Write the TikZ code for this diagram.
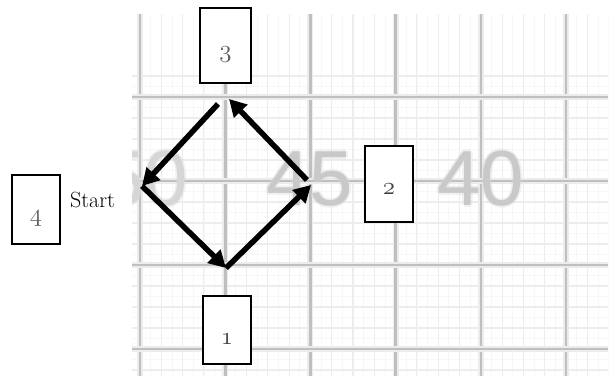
\documentclass[tikz,border=0pt]{standalone}
\usepackage{fontspec}
\newfontfamily\digitfont{Liberation Sans}
\usetikzlibrary{arrows.meta}
\newcommand\osnum[1]{{\usefont{OML}{cmm}{m}{it}#1}}
\begin{document}
\begin{tikzpicture}[x=1pt,y=-1pt,
  numbox/.style={draw=black, line width=1.2pt, fill=white, inner sep=0pt,
    minimum width=48pt, font=\fontsize{24}{24}\selectfont, text=black!75},
  bigdigit/.style={font=\digitfont\fontsize{78}{78}\selectfont, text=gray!42, inner sep=0pt},
  blurdigit/.style={font=\digitfont\fontsize{78}{78}\selectfont, text=gray!30, inner sep=0pt, opacity=0.35},
  flow/.style={line width=5.5pt, -{Triangle[length=17pt,width=18pt]}},
  major/.style={gray!50, line width=2.6pt},
  majorhalo/.style={gray!15, line width=6pt},
  minor/.style={gray!14, line width=1.1pt},
  fine/.style={gray!6, line width=0.8pt},
]
\useasboundingbox (0,0) rectangle (613,376);
\fill[white] (0,0) rectangle (613,376);

% graph paper
\begin{scope}
  \clip (132,14) rectangle (608,376);
  \foreach \k in {-1,...,48} {
    \draw[fine] ({140+10.65*\k},0) -- ({140+10.65*\k},376);
    \draw[fine] (0,{97+10.5*\k}) -- (613,{97+10.5*\k});
  }
  \foreach \k in {-1,...,24} {
    \draw[minor] ({140+21.3*\k},0) -- ({140+21.3*\k},376);
    \draw[minor] (0,{97+21*\k}) -- (613,{97+21*\k});
  }
  \foreach \k in {0,...,5} {
    \draw[majorhalo] ({140+85.2*\k},14) -- ({140+85.2*\k},376);
    \draw[major] ({140+85.2*\k},14) -- ({140+85.2*\k},376);
  }
  \foreach \k in {0,...,3} {
    \draw[majorhalo] (132,{97+84*\k}) -- (608,{97+84*\k});
    \draw[major] (132,{97+84*\k}) -- (608,{97+84*\k});
  }
  % blurred scale numbers
  \foreach \dx/\dy [count=\i] in {-2/0, 2/0, 0/-2, 0/2} {
    \node[blurdigit] (bf\i) at ({145+\dx},{179+\dy}) {50};
    \node[blurdigit] (bm\i) at ({310+\dx},{179+\dy}) {45};
    \node[blurdigit] (bl\i) at ({481+\dx},{179+\dy}) {40};
  }
  \node[bigdigit, text=gray!32] (n50) at (145,179) {50};
  \node[bigdigit] (n45) at (310,179) {45};
  \node[bigdigit] (n40) at (481,179) {40};
\end{scope}

% diamond of arrows
\coordinate (topstart) at (218,104);
\coordinate (left) at (142,186);
\coordinate (bottom) at (226,268);
\coordinate (right) at (311,185);
\coordinate (rightstart) at (307,180);
\coordinate (top) at (229,99);

\draw[flow] (topstart) -- (left);
\draw[flow] (left) -- (bottom);
\draw[flow] (bottom) -- (right);
\draw[flow] (rightstart) -- (top);

% numbered boxes
\node[numbox, minimum height=68pt] (box1) at (227,330)
  {\raisebox{-14pt}[0pt][0pt]{\osnum{1}}};
\node[numbox, minimum height=76pt] (box2) at (389,184)
  {\raisebox{-10pt}[0pt][0pt]{\osnum{2}}};
\node[numbox, minimum width=51pt, minimum height=75pt, text=black!65] (box3) at (225.5,45.5)
  {\raisebox{-12pt}[0pt][0pt]{\osnum{3}}};
\node[numbox, minimum height=69pt, text=black!65] (box4) at (36,209.5)
  {\raisebox{-12pt}[0pt][0pt]{\osnum{4}}};

\node[anchor=base west, inner sep=0pt, font=\fontsize{22}{22}\selectfont] (start) at (70,207) {Start};
\end{tikzpicture}
\end{document}
